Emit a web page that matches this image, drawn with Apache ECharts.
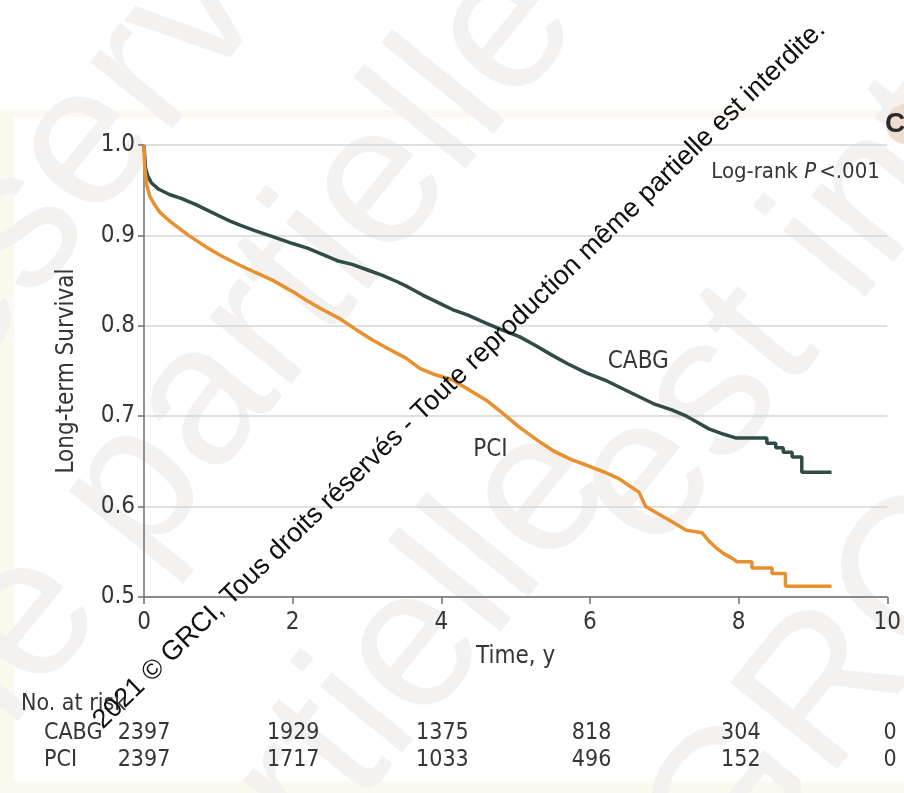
<!DOCTYPE html>
<html>
<head>
<meta charset="utf-8">
<script src="https://cdn.jsdelivr.net/npm/echarts@6/dist/echarts.min.js"></script>
<style>
  html, body { margin: 0; padding: 0; background: #ffffff; }
  #chart { width: 904px; height: 793px; }
</style>
</head>
<body>
<div id="chart"></div>
<script>
// Kaplan-Meier long-term survival, CABG vs PCI
const cabgTime = [0, 0.02, 0.05, 0.1, 0.2, 0.35, 0.5, 0.7, 0.85, 1.0, 1.15, 1.3, 1.5, 1.75, 2.0, 2.2, 2.4, 2.6, 2.8, 3.0, 3.2, 3.4, 3.55, 3.75, 4.0, 4.15, 4.35, 4.6, 4.8, 5.05, 5.25, 5.5, 5.7, 5.95, 6.2, 6.4, 6.6, 6.85, 7.1, 7.3, 7.45, 7.6, 7.8, 7.96, 8.38, 8.38, 8.5, 8.5, 8.6, 8.6, 8.72, 8.72, 8.85, 8.85, 9.25];
const cabgSurv = [1.0, 0.975, 0.966, 0.958, 0.951, 0.945, 0.941, 0.934, 0.928, 0.922, 0.916, 0.911, 0.905, 0.898, 0.891, 0.886, 0.879, 0.872, 0.868, 0.862, 0.856, 0.849, 0.843, 0.834, 0.824, 0.818, 0.812, 0.803, 0.796, 0.788, 0.779, 0.767, 0.758, 0.748, 0.740, 0.732, 0.724, 0.714, 0.707, 0.700, 0.693, 0.686, 0.680, 0.676, 0.676, 0.670, 0.670, 0.665, 0.665, 0.660, 0.660, 0.655, 0.655, 0.638, 0.638];

const pciTime = [0, 0.01, 0.04, 0.08, 0.15, 0.21, 0.3, 0.39, 0.6, 0.84, 1.05, 1.29, 1.5, 1.74, 2.0, 2.19, 2.4, 2.63, 2.85, 3.08, 3.3, 3.53, 3.71, 3.88, 4.15, 4.4, 4.6, 4.8, 5.05, 5.3, 5.5, 5.75, 5.95, 6.2, 6.39, 6.55, 6.66, 6.75, 6.9, 7.07, 7.29, 7.51, 7.6, 7.69, 7.8, 7.91, 7.98, 8.18, 8.18, 8.45, 8.45, 8.63, 8.63, 9.25];
const pciSurv = [1.0, 0.975, 0.955, 0.943, 0.933, 0.926, 0.919, 0.913, 0.900, 0.887, 0.877, 0.867, 0.859, 0.850, 0.838, 0.828, 0.818, 0.808, 0.796, 0.784, 0.774, 0.764, 0.753, 0.747, 0.740, 0.728, 0.718, 0.705, 0.688, 0.673, 0.662, 0.652, 0.646, 0.638, 0.631, 0.622, 0.616, 0.600, 0.593, 0.585, 0.574, 0.571, 0.562, 0.555, 0.548, 0.543, 0.539, 0.539, 0.532, 0.532, 0.526, 0.526, 0.512, 0.512];

// Number-at-risk table
const riskTimes = [0, 2, 4, 6, 8, 10];
const riskGroups = ['CABG', 'PCI'];
const riskCABG = [2397, 1929, 1375, 818, 304, 0];
const riskPCI = [2397, 1717, 1033, 496, 152, 0];

// Axis ticks
const xTicks = { min: 0, max: 10, interval: 2 };
const yTicks = { min: 0.5, max: 1.0, interval: 0.1 };

const FONT = "'DejaVu Sans Condensed', 'Liberation Sans Narrow', 'DejaVu Sans', sans-serif";
const FS = 24;
const TEXT = '#363636';
const AXIS = '#6f6f6f';
const CABG_COLOR = '#2f4c47';
const PCI_COLOR = '#e8902d';

const zip = (xs, ys) => xs.map((x, i) => [x, ys[i]]);

const chart = echarts.init(document.getElementById('chart'), null, { renderer: 'canvas' });

const riskData = [];
riskTimes.forEach((t, i) => {
  riskData.push([t, 'CABG', riskCABG[i]]);
  riskData.push([t, 'PCI', riskPCI[i]]);
});

chart.setOption({
  backgroundColor: '#ffffff',
  animation: false,
  textStyle: { fontFamily: FONT },
  grid: [
    { left: 144, right: 14, top: 145, bottom: 196 },
    { left: 144, right: 14, top: 720, height: 54 }
  ],
  xAxis: [
    {
      type: 'value', gridIndex: 0,
      min: xTicks.min, max: xTicks.max, interval: xTicks.interval,
      axisLine: { show: true, lineStyle: { color: AXIS, width: 1.5 } },
      axisTick: { show: true, length: 7, lineStyle: { color: AXIS, width: 1.5 } },
      axisLabel: { fontSize: FS, color: TEXT, margin: 14, fontFamily: FONT },
      splitLine: { show: false },
      name: 'Time, y', nameLocation: 'middle', nameGap: 48,
      nameTextStyle: { fontSize: FS, color: TEXT, fontFamily: FONT }
    },
    { type: 'value', gridIndex: 1, min: xTicks.min, max: xTicks.max, show: false }
  ],
  yAxis: [
    {
      type: 'value', gridIndex: 0,
      min: yTicks.min, max: yTicks.max, interval: yTicks.interval,
      axisLine: { show: true, lineStyle: { color: AXIS, width: 1.5 } },
      axisTick: { show: true, length: 6, lineStyle: { color: AXIS, width: 1.5 } },
      axisLabel: { fontSize: FS, color: TEXT, margin: 9, fontFamily: FONT,
                   formatter: v => v.toFixed(1) },
      splitLine: { show: true, lineStyle: { color: '#d6d6d6', width: 1.5 } },
      name: 'Long-term Survival', nameLocation: 'middle', nameGap: 65,
      nameTextStyle: { fontSize: FS, color: TEXT, fontFamily: FONT }
    },
    {
      type: 'category', gridIndex: 1, data: riskGroups, inverse: true,
      axisLine: { show: false }, axisTick: { show: false },
      axisLabel: { interval: 0, align: 'left', margin: 100, fontSize: 23, color: TEXT, fontFamily: FONT }
    }
  ],
  series: [
    {
      name: 'CABG', type: 'line', xAxisIndex: 0, yAxisIndex: 0,
      data: zip(cabgTime, cabgSurv), showSymbol: false, z: 3,
      lineStyle: { color: CABG_COLOR, width: 3.5 }
    },
    {
      name: 'PCI', type: 'line', xAxisIndex: 0, yAxisIndex: 0,
      data: zip(pciTime, pciSurv), showSymbol: false, z: 4,
      lineStyle: { color: PCI_COLOR, width: 3.5 }
    },
    {
      name: 'At risk', type: 'scatter', xAxisIndex: 1, yAxisIndex: 1,
      data: riskData, symbolSize: 1, itemStyle: { opacity: 0 },
      label: { show: true, position: 'inside', formatter: p => String(p.value[2]),
               fontSize: 23, color: TEXT, opacity: 1, fontFamily: FONT }
    }
  ]
});

// Text annotations placed in data coordinates
const at = (x, y) => chart.convertToPixel({ gridIndex: 0 }, [x, y]);
const logrank = at(9.9, 0.970);
const cabgLbl = at(6.65, 0.760);
const pciLbl = at(4.66, 0.663);

// Faint background lettering and the diagonal notice
const deg = a => a * Math.PI / 180;
const wmStyle = { font: "200px 'Liberation Sans', sans-serif", fill: '#f4f1f1', verticalAlign: 'middle', align: 'left' };
const bigWords = [
  ['réservé', -124, 407],
  ['même partielle', -285, 1008],
  ['partielle', 134, 996],
  ['est interdite.', 611, 523],
  ['GRCI', 686, 868]
];

chart.setOption({
  graphic: [
    { type: 'rect', z: -20, silent: true, shape: { x: 0, y: 110, width: 904, height: 683 }, style: { fill: '#fcf9ee' } },
    { type: 'rect', z: -19, silent: true, shape: { x: 14, y: 117, width: 890, height: 664 }, style: { fill: '#ffffff' } },
    ...bigWords.map(([t, x, y]) => ({
      type: 'text', z: -10, silent: true, x, y, rotation: deg(51),
      style: Object.assign({ text: t }, wmStyle)
    })),
    { type: 'circle', z: 5, silent: true, shape: { cx: 906, cy: 124, r: 20 }, style: { fill: '#eedcd0' } },
    { type: 'text', z: 6, silent: true, x: 895, y: 124,
      style: { text: 'C', font: "bold 28px 'Liberation Sans', sans-serif", fill: '#2a2a2a', align: 'center', verticalAlign: 'middle' } },
    { type: 'text', z: 10, silent: true, x: logrank[0], y: logrank[1],
      style: {
        text: '{n|Log-rank }{i|P}{n|<.001}', align: 'right', verticalAlign: 'middle',
        rich: {
          n: { fontSize: 22, fontFamily: FONT, fill: TEXT },
          i: { fontSize: 22, fontFamily: FONT, fontStyle: 'italic', fill: TEXT, padding: [0, 3, 0, 0] }
        }
      } },
    { type: 'text', z: 10, silent: true, x: cabgLbl[0], y: cabgLbl[1],
      style: { text: 'CABG', font: FS + "px " + FONT, fill: TEXT, align: 'center', verticalAlign: 'middle' } },
    { type: 'text', z: 10, silent: true, x: pciLbl[0], y: pciLbl[1],
      style: { text: 'PCI', font: FS + "px " + FONT, fill: TEXT, align: 'center', verticalAlign: 'middle' } },
    { type: 'text', z: 10, silent: true, x: 21, y: 704,
      style: { text: 'No. at risk', font: "23px " + FONT, fill: TEXT, align: 'left', verticalAlign: 'middle' } },
    { type: 'text', z: 20, silent: true, x: 107, y: 734, rotation: deg(44),
      style: { text: '2021 © GRCI, Tous droits réservés - Toute reproduction même partielle est interdite.',
               font: "27px 'Liberation Sans', sans-serif", fill: '#111111', align: 'left', verticalAlign: 'bottom' } }
  ]
});
</script>
</body>
</html>
